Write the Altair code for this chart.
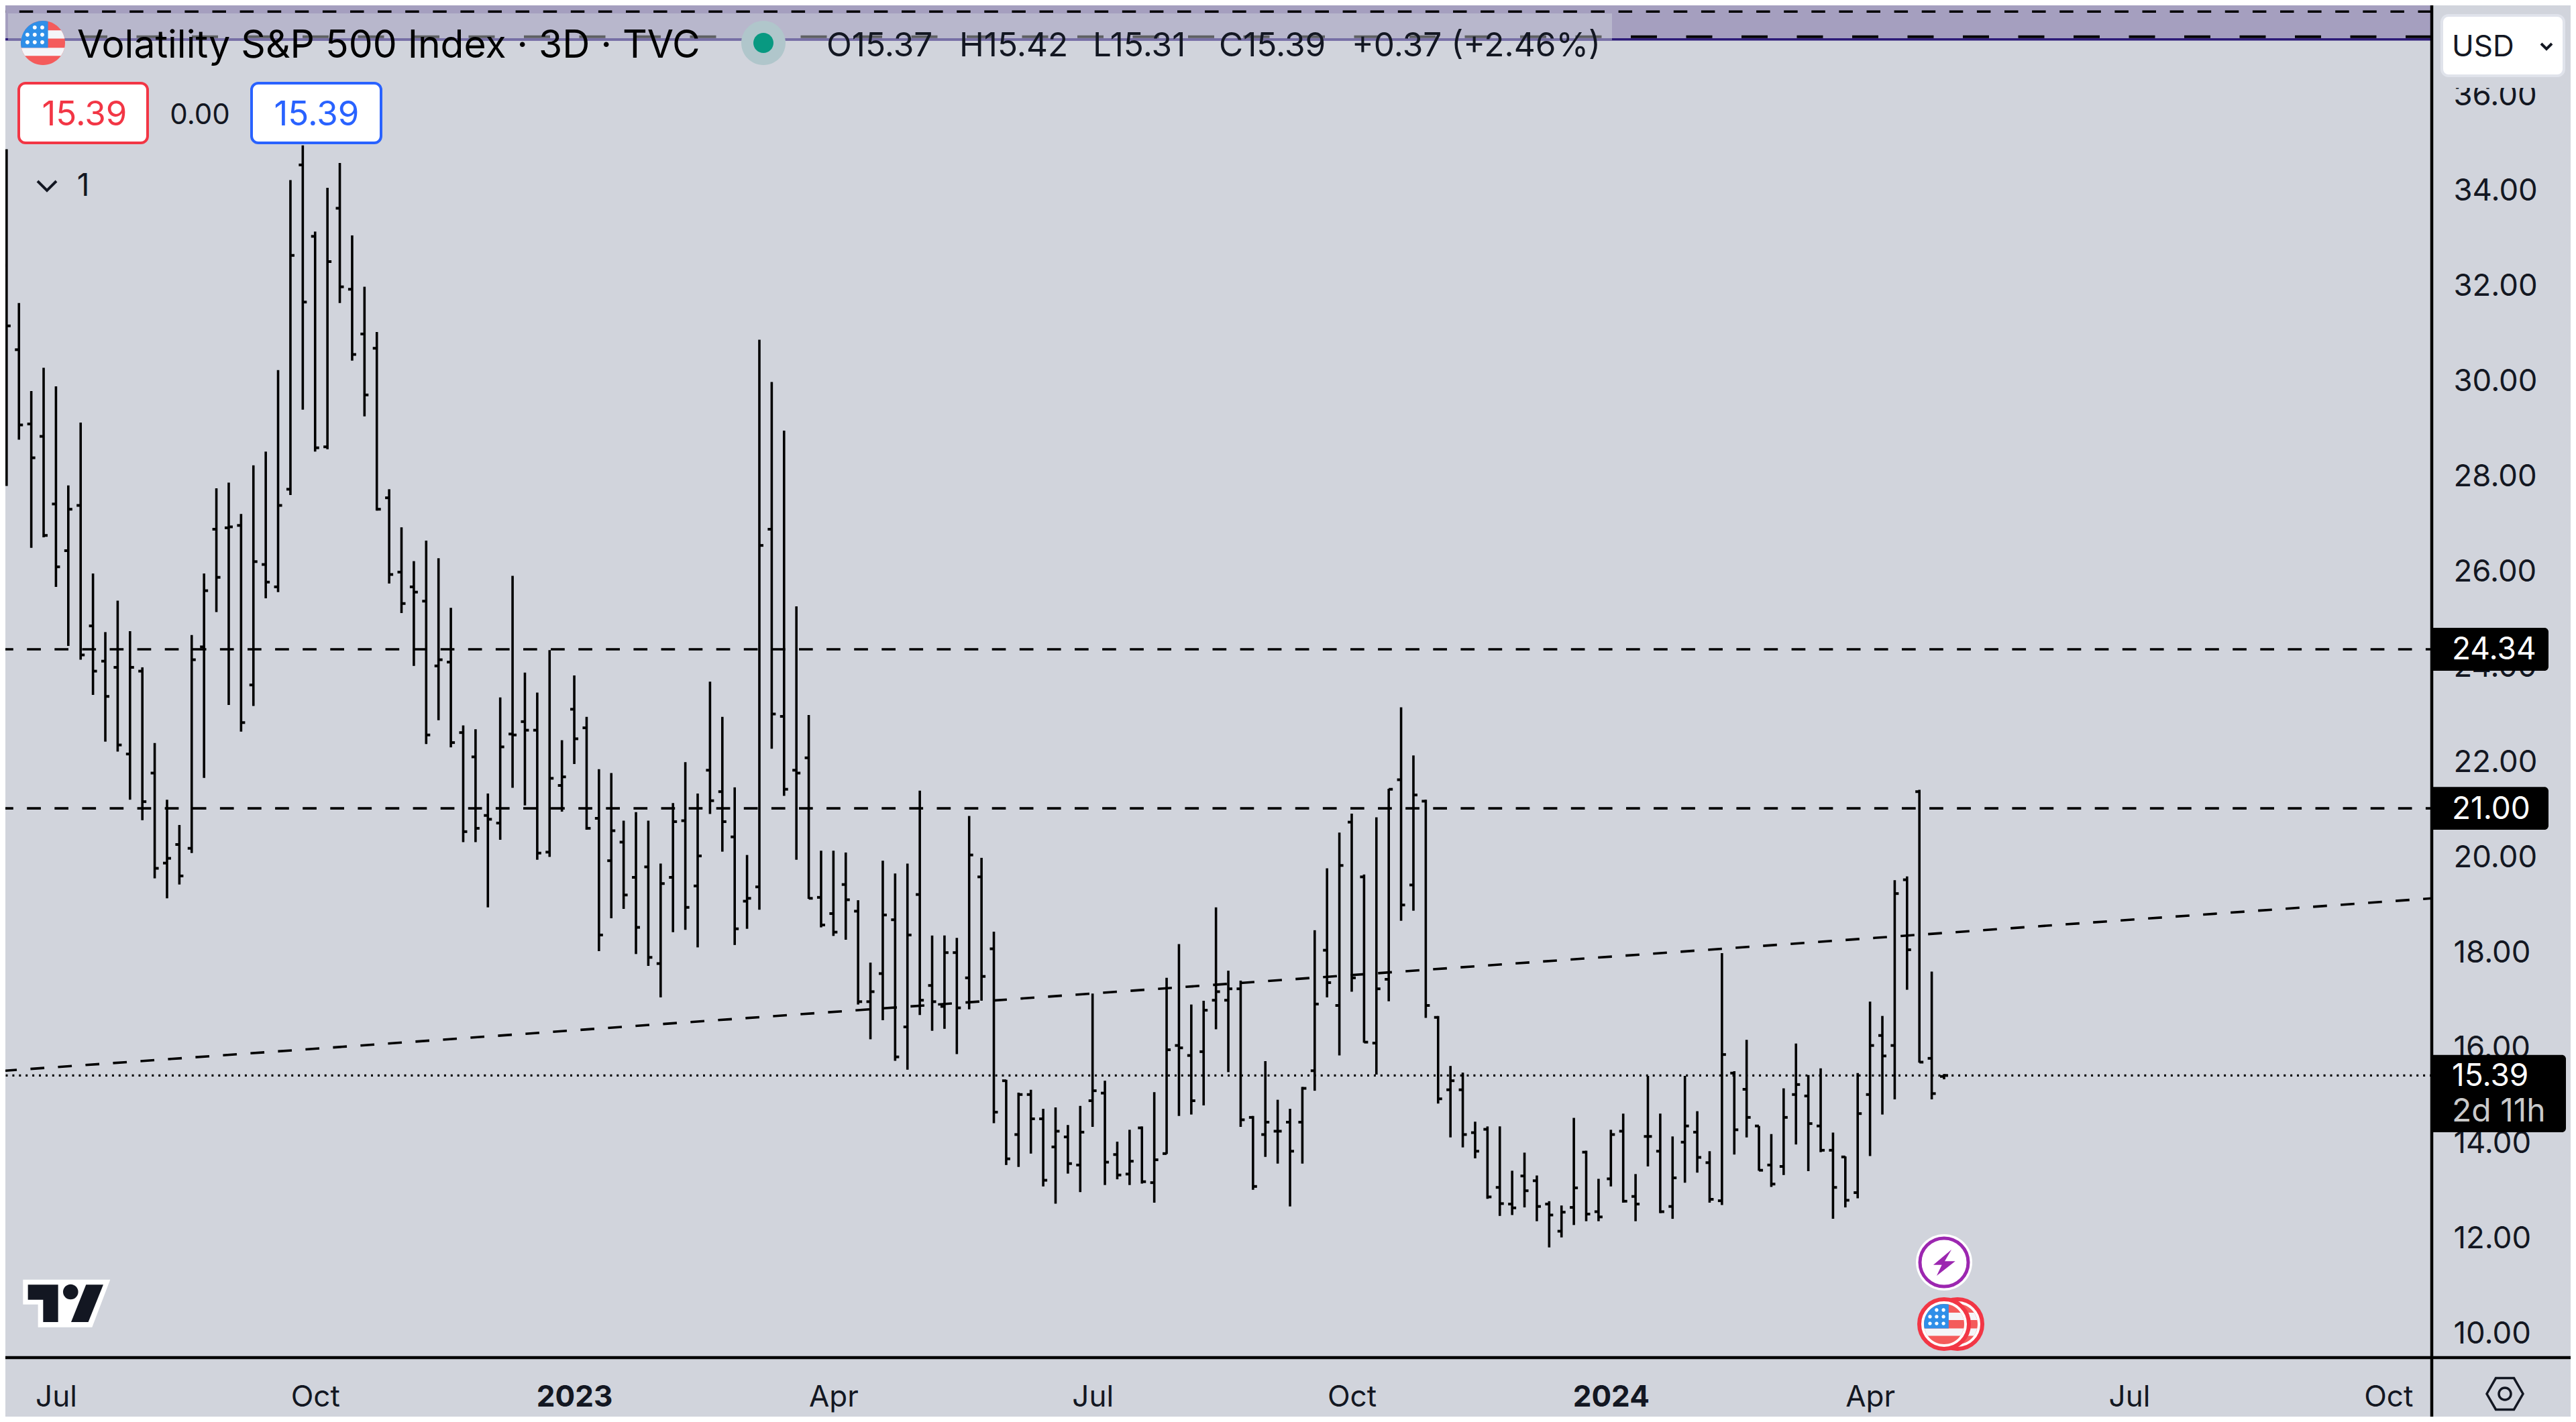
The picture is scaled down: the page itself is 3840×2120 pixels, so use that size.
import altair as alt
import pandas as pd

# OHLC of the 3-day bars
opens = [32.40, 30.63, 29.07, 28.81, 27.39, 26.41, 27.36, 24.83, 24.09, 23.96, 22.14, 23.88, 21.74, 19.85, 20.24, 20.16,
         24.39, 26.86, 26.89, 26.94, 23.59, 26.12, 25.65, 27.70, 34.51, 33.01, 28.59, 33.60, 31.90, 30.96, 30.66, 27.52,
         25.96, 25.65, 25.35, 23.99, 24.07, 22.59, 22.08, 20.85, 20.69, 22.56, 22.82, 22.64, 20.08, 21.48, 23.08, 22.69,
         20.79, 19.90, 20.29, 19.55, 19.77, 17.74, 19.55, 20.74, 19.37, 21.80, 21.35, 20.40, 19.05, 19.35, 26.86, 22.93,
         21.80, 22.06, 19.13, 18.79, 19.40, 18.84, 16.94, 17.53, 18.66, 16.41, 19.19, 17.28, 16.84, 17.97, 17.44, 19.56,
         18.05, 15.28, 14.15, 14.99, 14.48, 13.89, 14.10, 13.51, 14.86, 15.02, 13.73, 13.32, 14.29, 13.14, 13.75, 16.02,
         15.81, 15.89, 16.97, 16.97, 17.21, 14.51, 14.15, 14.22, 14.41, 14.41, 15.49, 18.02, 16.86, 20.71, 19.56, 16.07,
         17.41, 21.60, 19.39, 21.15, 16.61, 15.09, 15.09, 14.19, 14.26, 13.04, 12.69, 13.28, 13.18, 12.69, 12.12, 12.62,
         13.78, 12.53, 13.22, 14.22, 12.85, 14.11, 13.80, 12.64, 13.99, 14.20, 13.56, 12.76, 15.44, 15.10, 14.33, 13.51,
         13.48, 14.99, 14.96, 14.33, 13.82, 13.68, 12.93, 14.99, 16.23, 16.02, 19.50, 21.35, 15.75, 15.37]
highs = [34.84, 31.61, 29.76, 30.25, 29.86, 27.78, 29.10, 25.93, 24.70, 25.36, 24.72, 23.96, 22.37, 21.18, 20.65, 24.64,
         25.93, 27.72, 27.84, 27.18, 28.20, 28.49, 30.20, 34.19, 34.92, 33.11, 34.03, 34.55, 33.03, 31.95, 31.00, 27.70,
         26.90, 26.19, 26.62, 26.25, 25.21, 22.74, 22.66, 21.31, 23.33, 25.88, 23.85, 23.43, 24.32, 22.43, 23.79, 22.92,
         21.82, 21.74, 20.74, 20.92, 20.74, 19.84, 21.11, 21.97, 21.31, 23.66, 22.92, 21.44, 20.02, 30.84, 29.95, 28.93,
         25.24, 22.96, 20.11, 20.11, 20.07, 19.07, 17.76, 19.90, 19.63, 19.84, 21.37, 18.33, 18.33, 18.28, 20.84, 19.96,
         18.41, 15.30, 15.03, 15.09, 14.69, 14.72, 14.35, 14.75, 17.11, 15.28, 14.00, 14.25, 14.32, 15.04, 17.44, 18.15,
         16.88, 16.96, 18.92, 17.59, 17.38, 14.54, 15.69, 14.88, 14.69, 15.15, 18.44, 19.74, 20.49, 20.89, 19.61, 20.81,
         21.41, 23.12, 22.11, 21.18, 16.64, 15.59, 15.45, 14.42, 14.32, 14.32, 13.39, 13.77, 13.29, 12.75, 12.66, 14.50,
         13.81, 13.22, 14.25, 14.59, 13.32, 15.38, 14.59, 14.11, 15.38, 14.64, 13.80, 17.96, 15.48, 16.14, 14.33, 14.16,
         15.12, 16.06, 15.40, 15.54, 14.19, 13.69, 15.44, 16.94, 16.64, 19.49, 19.57, 21.39, 17.57, 15.42]
lows = [27.77, 28.74, 26.47, 26.69, 25.65, 24.41, 24.12, 23.38, 22.40, 22.19, 21.18, 20.75, 19.53, 19.11, 19.40, 20.06,
        21.64, 25.12, 23.17, 22.61, 23.15, 25.41, 25.54, 27.58, 29.37, 28.49, 28.54, 31.61, 30.40, 29.23, 27.25, 25.72,
        25.10, 23.99, 22.35, 22.85, 22.28, 20.29, 20.29, 18.92, 20.34, 21.43, 21.06, 19.92, 19.98, 20.93, 21.93, 20.55,
        18.00, 18.69, 18.89, 17.94, 17.69, 17.03, 18.40, 18.45, 18.08, 20.88, 20.09, 18.13, 18.47, 18.87, 22.25, 21.26,
        19.92, 19.10, 18.50, 18.32, 18.24, 16.88, 16.15, 16.55, 15.70, 15.51, 16.66, 16.33, 16.37, 15.84, 16.78, 16.96,
        14.39, 13.51, 13.47, 13.75, 13.06, 12.70, 13.33, 12.94, 14.31, 13.09, 13.21, 13.09, 13.12, 12.72, 13.74, 14.54,
        14.57, 14.76, 16.36, 15.46, 14.31, 12.99, 13.68, 13.54, 12.64, 13.54, 15.07, 17.03, 15.81, 17.15, 16.08, 15.41,
        16.95, 18.64, 18.85, 16.60, 14.80, 14.09, 13.88, 13.65, 12.80, 12.44, 12.46, 12.62, 12.33, 11.78, 11.99, 12.25,
        12.33, 12.33, 13.06, 12.72, 12.33, 13.48, 12.50, 12.38, 13.14, 13.35, 12.72, 12.67, 13.73, 14.09, 13.39, 13.05,
        13.30, 13.94, 13.38, 13.78, 12.38, 12.62, 12.81, 13.70, 14.57, 14.89, 17.19, 15.66, 14.89, 15.31]
closes = [31.13, 29.05, 28.36, 26.73, 26.07, 27.28, 24.22, 23.88, 23.35, 22.33, 23.96, 21.14, 19.74, 19.95, 19.58, 24.12,
          25.57, 25.85, 26.91, 22.80, 26.18, 25.75, 27.36, 32.61, 31.63, 28.57, 32.48, 31.95, 30.53, 29.68, 27.28, 25.91,
          25.30, 25.54, 22.54, 24.12, 22.38, 20.51, 20.58, 20.77, 22.29, 22.54, 22.64, 20.06, 21.63, 21.66, 22.46, 20.58,
          18.34, 20.53, 19.18, 18.50, 17.87, 19.42, 20.72, 18.92, 20.00, 21.16, 20.72, 18.47, 19.11, 26.52, 22.98, 21.40,
          21.74, 19.11, 18.55, 18.40, 19.08, 16.94, 17.15, 18.76, 15.78, 18.34, 16.97, 16.94, 17.97, 16.81, 20.02, 17.47,
          14.62, 13.64, 14.99, 14.48, 13.19, 14.22, 13.54, 14.20, 15.07, 13.57, 13.30, 13.59, 13.16, 13.62, 15.93, 15.97,
          14.86, 16.76, 17.15, 17.21, 14.46, 13.06, 14.41, 14.22, 13.80, 15.12, 16.89, 17.34, 19.80, 17.44, 16.09, 17.21,
          21.40, 18.97, 21.28, 16.86, 14.90, 15.28, 14.15, 13.80, 12.84, 12.70, 12.61, 12.97, 12.64, 12.46, 12.52, 13.03,
          12.48, 12.42, 14.15, 12.75, 12.69, 14.11, 12.53, 13.24, 14.33, 13.67, 12.79, 15.83, 14.25, 14.51, 13.40, 13.11,
          14.51, 15.20, 14.38, 13.82, 13.04, 12.77, 14.59, 16.02, 15.80, 19.21, 18.03, 15.67, 15.01, 15.39]

x_ticks = [4, 25, 46, 67, 88, 109, 130, 151, 172, 193]
x_tick_labels = ["Jul", "Oct", "2023", "Apr", "Jul", "Oct", "2024", "Apr", "Jul", "Oct"]
y_ticks = [10, 12, 14, 16, 18, 20, 22, 24, 26, 28, 30, 32, 34, 36]

levels = [24.34, 21.00]
last_price = 15.39
trend_x = [-0.1, 196.52]
trend_y = [15.49, 19.11]

# the drawing band that runs off the top of the chart
band_top = 37.86
band_bottom = 37.145
band_dash_a = 37.73
band_dash_b = 37.20

BG = "#d1d4dc"
INK = "#131722"
FONT = "Inter"
RED = "#f23645"
BLUE = "#2962ff"
FLAG_RED = "#f45b5b"
FLAG_BLUE = "#2f8fe8"

CIRCLE = "M-1 0A1 1 0 1 0 1 0A1 1 0 1 0 -1 0Z"
STRIPE_A = "M-.822 -.57L.822 -.57A1 1 0 0 1 .98 -.2L-.98 -.2A1 1 0 0 1 -.822 -.57Z"
STRIPE_B = "M-.975 .22L.975 .22A1 1 0 0 1 .815 .58L-.815 .58A1 1 0 0 1 -.975 .22Z"
CANTON = "M.23 -.973L.23 .22L-.975 .22A1 1 0 0 1 .23 -.973Z"
STARS = ""
for sy in [-.7, -.37, -.03]:
    for sx in [-.7, -.37, -.03]:
        if sy == -.7 and sx == -.7:
            continue
        STARS += f"M{sx - .09:.2f} {sy}A.09 .09 0 1 0 {sx + .09:.2f} {sy}A.09 .09 0 1 0 {sx - .09:.2f} {sy}Z"
BOLT = "M.66 -1.14L.06 -.1L1 -.1L-.66 1.2L-.2 .22L-.96 .22Z"
LOGO_BACK = "M-1 -.544L1 -.544L.585 .549L-.656 .549L-.656 .026L-1 .026Z"
LOGO_T = "M-.887 -.426L-.195 -.426L-.195 .431L-.538 .431L-.538 -.082L-.887 -.082Z"
LOGO_SLASH = "M.446 -.426L.841 -.426L.497 .431L.103 .431Z"
LOGO_DOT = "M-.082 -.262A.174 .174 0 1 0 .266 -.262A.174 .174 0 1 0 -.082 -.262Z"
HEXAGON = "M-1 0L-.5 -.87L.5 -.87L1 0L.5 .87L-.5 .87Z"
CHEVRON = "M-1 -.5L0 .5L1 -.5"

bars = pd.DataFrame({"bar": range(len(opens)), "open": opens, "high": highs, "low": lows, "close": closes})
one = pd.DataFrame({"a": [0]})

x_scale = alt.Scale(domain=[-0.1, 196.52], nice=False, zero=False)
y_scale = alt.Scale(domain=[9.466, 37.86], nice=False, zero=False)
label_map = ",".join(f"'{k}':'{v}'" for k, v in zip(x_ticks, x_tick_labels))
x_axis = alt.Axis(
    values=x_ticks, labelExpr="{" + label_map + "}[datum.value]", title=None, grid=False, domain=False, ticks=False,
    labelFont=FONT, labelFontSize=44, labelColor=INK, labelPadding=59, labelBaseline="middle", labelOverlap=False,
    labelFontWeight={"condition": {"test": "datum.value == 46 || datum.value == 130", "value": "bold"}, "value": "normal"},
)
y_axis = alt.Axis(
    values=y_ticks, format=".2f", orient="right", title=None, grid=False, domain=False, ticks=False,
    labelFont=FONT, labelFontSize=45.5, labelColor=INK, labelPadding=32, labelAlign="left", labelOverlap=False,
    labelOffset=2,
)


def X(field):
    return alt.X(field, scale=x_scale, axis=x_axis)


def Y(field):
    return alt.Y(field, scale=y_scale, axis=y_axis)


# the x, y values here are picture pixels, the page margin takes 8
def box(x0, x1, y0, y1, fill, **kw):
    return alt.Chart(one).mark_rect(fill=fill, **kw).encode(
        x=alt.value(x0 - 8), x2=alt.value(x1 - 8), y=alt.value(y0 - 8), y2=alt.value(y1 - 8))


def label(text, x, y, size=44, color=INK, align="center", weight="normal"):
    return alt.Chart(pd.DataFrame({"t": [text]})).mark_text(
        font=FONT, fontSize=size, color=color, align=align, baseline="middle", fontWeight=weight
    ).encode(text="t:N", x=alt.value(x - 8), y=alt.value(y - 8))


def icon(path, x, y, r, fill=None, stroke=None, width=0):
    kw = {"fill": fill, "filled": True} if fill else {"filled": False}
    if stroke:
        kw.update(stroke=stroke, strokeWidth=width)
    return alt.Chart(one).mark_point(shape=path, size=4 * r * r, opacity=1, **kw).encode(
        x=alt.value(x - 8), y=alt.value(y - 8))


def flag(x, y, r):
    return [
        icon(CIRCLE, x, y, r, fill=FLAG_RED),
        icon(STRIPE_A, x, y, r, fill="#f4f5f8"),
        icon(STRIPE_B, x, y, r, fill="#f4f5f8"),
        icon(CANTON, x, y, r, fill=FLAG_BLUE),
        icon(STARS, x, y, r, fill="white"),
    ]


band = alt.Chart(pd.DataFrame({"t": [band_top], "b": [band_bottom]})).mark_rect(fill="#a59fbf").encode(
    x=alt.value(0), x2=alt.value(3617), y=Y("t:Q"), y2="b:Q")
band_edge = alt.Chart(pd.DataFrame({"p": [band_bottom]})).mark_rule(color="#2c1a78", strokeWidth=3.5).encode(y=Y("p:Q"))
band_a = alt.Chart(pd.DataFrame({"p": [band_dash_a]})).mark_rule(
    color="black", strokeWidth=3.5, strokeDash=[20.5, 20.6]).encode(y=Y("p:Q"))
band_b = alt.Chart(pd.DataFrame({"p": [band_dash_b]})).mark_rule(
    color="black", strokeWidth=4, strokeDash=[39, 43.5]).encode(y=Y("p:Q"))

wicks = alt.Chart(bars).mark_rule(color="black", strokeWidth=3.6).encode(
    x=X("bar:Q"), y=Y("high:Q"), y2="low:Q")
open_ticks = alt.Chart(bars).mark_tick(
    color="black", orient="horizontal", size=6, thickness=4, xOffset=-3, opacity=1
).encode(x=X("bar:Q"), y=Y("open:Q"))
close_ticks = alt.Chart(bars).mark_tick(
    color="black", orient="horizontal", size=6, thickness=4, xOffset=3, opacity=1
).encode(x=X("bar:Q"), y=Y("close:Q"))

level_rules = alt.Chart(pd.DataFrame({"p": levels})).mark_rule(
    color="black", strokeWidth=3.6, strokeDash=[20.7, 20.4], strokeDashOffset=11.6).encode(y=Y("p:Q"))
last_rule = alt.Chart(pd.DataFrame({"p": [last_price]})).mark_rule(
    color="black", strokeWidth=3.2, strokeDash=[3, 6.9]).encode(y=Y("p:Q"))
trend = alt.Chart(pd.DataFrame({"x": trend_x, "y": trend_y})).mark_line(
    color="black", strokeWidth=3.6, strokeDash=[20.7, 20.4], strokeDashOffset=3.6).encode(x=X("x:Q"), y=Y("y:Q"))

tags = pd.DataFrame({"hi": [24.79, 21.45, 15.82], "lo": [23.89, 20.55, 14.20], "right": [3791, 3791, 3817]})
tag_rects = [
    alt.Chart(tags.iloc[[i]]).mark_rect(fill="black", cornerRadiusTopRight=6, cornerRadiusBottomRight=6).encode(
        x=alt.value(3617), x2=alt.value(int(tags["right"][i])), y=Y("hi:Q"), y2="lo:Q")
    for i in range(len(tags))
]

layers = [
    band, band_edge, band_a, band_b,
    wicks, open_ticks, close_ticks,
    level_rules, last_rule, trend,
    box(12, 2403, 20, 60, BG, opacity=0.45),
    # frame
    alt.Chart(one).mark_rule(color="black", strokeWidth=4.5).encode(
        x=alt.value(3617), y=alt.value(0), y2=alt.value(2104)),
    alt.Chart(one).mark_rule(color="black", strokeWidth=4.5).encode(
        x=alt.value(0), x2=alt.value(3824), y=alt.value(2016)),
    *tag_rects,
    label("24.34", 3655, 969, size=46, color="white", align="left"),
    label("21.00", 3655, 1207, size=46, color="white", align="left"),
    label("15.39", 3655, 1605, size=46, color="white", align="left"),
    label("2d 11h", 3655, 1658, size=48, color="#c9c9c9", align="left"),
    # header
    *flag(64, 64, 33),
    label("Volatility S&P 500 Index · 3D · TVC", 115, 69, size=57, color="black", align="left"),
    icon(CIRCLE, 1138, 64, 33, fill="#b0c6cb"),
    icon(CIRCLE, 1138, 64, 15, fill="#089981"),
    label("O15.37", 1232, 69, size=49.5, align="left"),
    label("H15.42", 1430, 69, size=49.5, align="left"),
    label("L15.31", 1629, 69, size=49.5, align="left"),
    label("C15.39", 1817, 69, size=49.5, align="left"),
    label("+0.37 (+2.46%)", 2015, 69, size=49.5, align="left"),
    box(28, 220, 124, 213, "white", stroke=RED, strokeWidth=4, cornerRadius=10),
    label("15.39", 126, 172, size=51, color=RED),
    label("0.00", 298, 172, size=42),
    box(375, 568, 124, 213, "white", stroke=BLUE, strokeWidth=4, cornerRadius=10),
    label("15.39", 472, 172, size=51, color=BLUE),
    icon(CHEVRON, 70, 277, 14, stroke=INK, width=4),
    label("1", 124, 278, size=46),
    # right panel, the box's halo cuts the top of the 36.00 label
    box(3630, 3832, 113, 131, BG),
    box(3640, 3822, 23, 113, "white", stroke="#e0e3eb", strokeWidth=4, cornerRadius=10),
    label("USD", 3655, 71, size=44, align="left"),
    icon(CHEVRON, 3796, 69, 8, stroke=INK, width=4),
    icon(HEXAGON, 3734, 2078, 27, stroke=INK, width=3.5),
    icon(CIRCLE, 3734, 2078, 9, stroke=INK, width=3.5),
    # logo
    icon(LOGO_BACK, 99.3, 1943, 65, fill="white"),
    icon(LOGO_T, 99.3, 1943, 65, fill=INK),
    icon(LOGO_SLASH, 99.3, 1943, 65, fill=INK),
    icon(LOGO_DOT, 99.3, 1943, 65, fill=INK),
    # event markers
    icon(CIRCLE, 2898, 1882, 42, fill="white"),
    icon(CIRCLE, 2898, 1882, 36, fill="white", stroke="#9c27b0", width=5),
    icon(BOLT, 2898, 1882, 16.7, fill="#9c27b0"),
    icon(CIRCLE, 2918, 1974, 37, fill="white", stroke=RED, width=6),
    *flag(2918, 1974, 30),
    icon(CIRCLE, 2898, 1974, 37, fill="white", stroke=RED, width=6),
    *flag(2898, 1974, 30),
]

chart = alt.layer(*layers).properties(
    width=3617,
    height=2016,
    padding={"left": 0, "top": 0, "right": 207, "bottom": 88},
    autosize=alt.AutoSizeParams(type="none"),
    background=BG,
).configure_view(strokeWidth=0)

chart.save("out.html", embed_options={"renderer": "svg", "actions": False})
